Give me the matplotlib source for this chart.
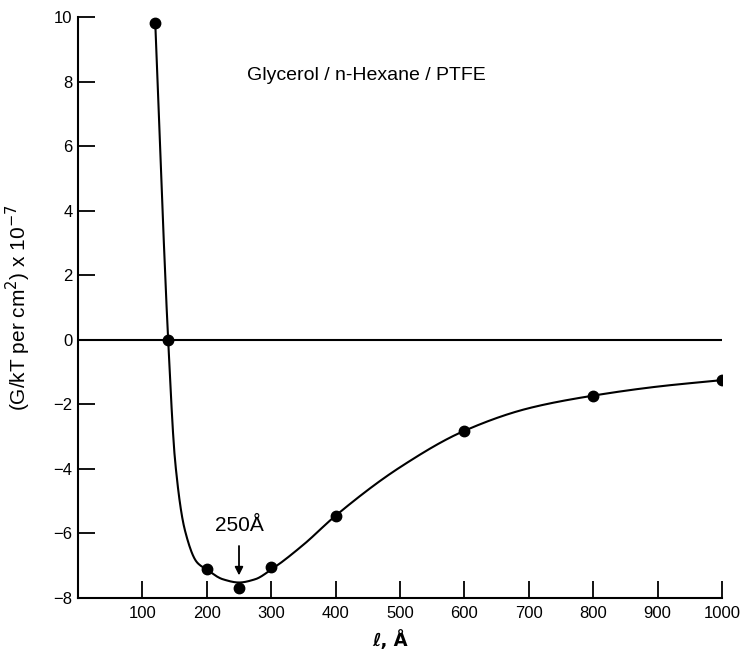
import numpy as np
import matplotlib
matplotlib.use("Agg")
import matplotlib.pyplot as plt

plt.rcParams['font.family'] = ['Liberation Sans', 'DejaVu Sans']

# measured points
pt_x = [120, 140, 200, 250, 300, 400, 600, 800, 1000]
pt_y = [9.8, 0.0, -7.1, -7.68, -7.05, -5.45, -2.82, -1.73, -1.25]

# smooth curve knots
cv_x = [120, 140, 151, 166, 185, 200, 225, 250, 275, 300, 350, 400, 500, 600, 700, 800, 900, 1000]
cv_y = [9.8, 0.0, -3.8, -5.9, -6.9, -7.12, -7.42, -7.52, -7.42, -7.12, -6.35, -5.45, -3.95, -2.82, -2.12, -1.73, -1.45, -1.25]

x_ticks = [100, 200, 300, 400, 500, 600, 700, 800, 900, 1000]
y_ticks = [-8, -6, -4, -2, 0, 2, 4, 6, 8, 10]


def pchip(xk, yk, xs):
    xk = np.asarray(xk, float); yk = np.asarray(yk, float)
    h = np.diff(xk); d = np.diff(yk) / h
    n = len(xk); m = np.zeros(n)
    for k in range(1, n - 1):
        if d[k - 1] * d[k] <= 0:
            m[k] = 0
        else:
            w1 = 2 * h[k] + h[k - 1]; w2 = h[k] + 2 * h[k - 1]
            m[k] = (w1 + w2) / (w1 / d[k - 1] + w2 / d[k])
    m[0] = d[0]; m[-1] = d[-1]
    idx = np.clip(np.searchsorted(xk, xs) - 1, 0, n - 2)
    t = (xs - xk[idx]) / h[idx]
    h00 = 2 * t**3 - 3 * t**2 + 1; h10 = t**3 - 2 * t**2 + t
    h01 = -2 * t**3 + 3 * t**2; h11 = t**3 - t**2
    return h00 * yk[idx] + h10 * h[idx] * m[idx] + h01 * yk[idx + 1] + h11 * h[idx] * m[idx + 1]


fig = plt.figure(figsize=(7.45, 6.53), dpi=100)
ax = fig.add_axes([78 / 745, 1 - 598 / 653, (722 - 78) / 745, (598 - 17) / 653])

xs = np.linspace(cv_x[0], cv_x[-1], 800)
ax.plot(xs, pchip(cv_x, cv_y, xs), color='black', lw=1.5)
ax.plot(pt_x, pt_y, 'o', color='black', ms=7.5)
ax.axhline(0, color='black', lw=1.5)

ax.set_xlim(0, 1000)
ax.set_ylim(-8, 10)
ax.set_xticks(x_ticks)
ax.set_yticks(y_ticks)
ax.set_xticklabels([str(v) for v in x_ticks])
ax.set_yticklabels([str(v) if v >= 0 else '\u2212' + str(-v) for v in y_ticks])
ax.tick_params(direction='in', length=12, width=1.3, labelsize=12, colors='black')
ax.tick_params(axis='y', pad=4)
ax.tick_params(axis='x', pad=6)
for s in ['top', 'right']:
    ax.spines[s].set_visible(False)
for s in ['left', 'bottom']:
    ax.spines[s].set_linewidth(1.5)

ax.text(262, 8.2, 'Glycerol / n-Hexane / PTFE', fontsize=14, ha='left', va='center')
ax.annotate('250Å', xy=(250, -7.3), xytext=(250, -5.75), ha='center', va='center', fontsize=15,
            arrowprops=dict(arrowstyle='-|>', color='black', lw=1.3, shrinkA=6, shrinkB=0,
                            mutation_scale=12))

fig.text(18 / 745, 1 - 308 / 653, '(G/kT per cm$^2$) x 10$^{-7}$', rotation=90,
         ha='center', va='center', fontsize=15)
fig.text(390 / 745, 1 - 640 / 653, 'ℓ, Å', ha='center', va='center', fontsize=13,
         fontweight='bold', family=['DejaVu Sans'])

fig.savefig('out.png', dpi=100)
